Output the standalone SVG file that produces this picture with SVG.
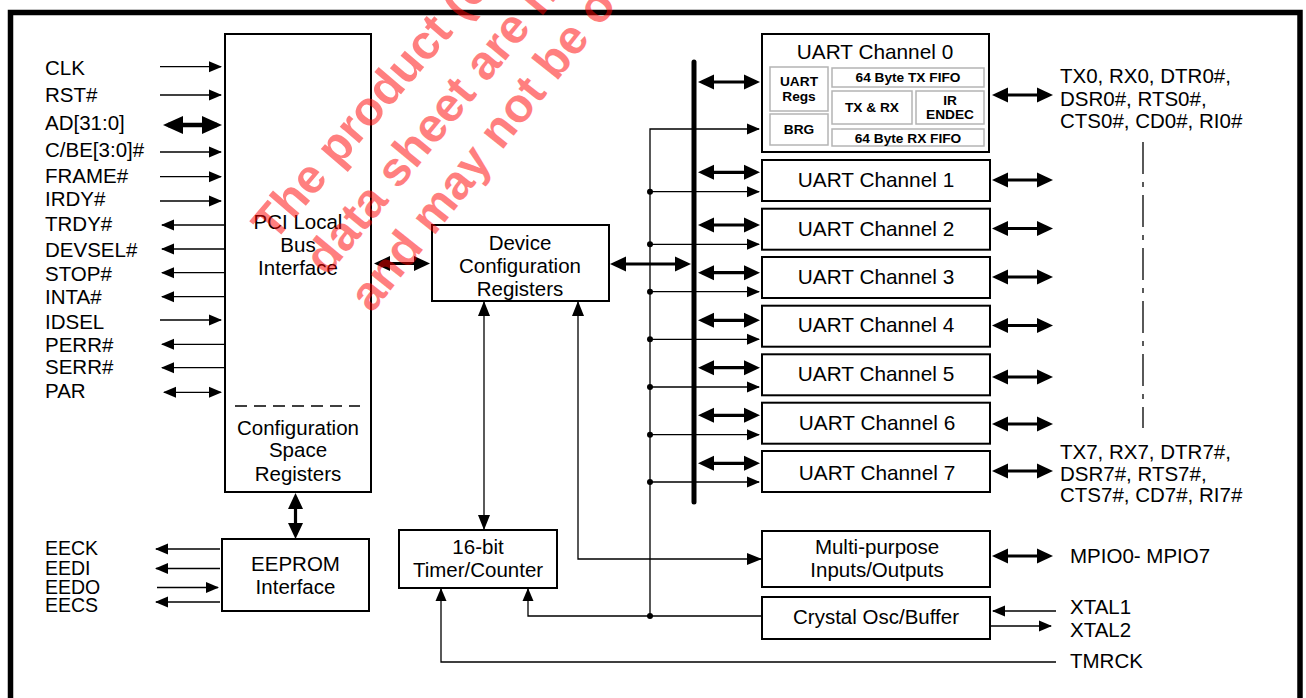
<svg xmlns="http://www.w3.org/2000/svg" width="1306" height="698" viewBox="0 0 1306 698">
<style>
.t{font-family:"Liberation Sans",Arial,sans-serif;font-size:20.5px;fill:#000}
.c{text-anchor:middle}
.u{font-size:20.8px}
.e{font-size:19.5px}
.b{font-family:"Liberation Sans",Arial,sans-serif;font-weight:bold;font-size:13.7px;text-anchor:middle;fill:#000}
.box{fill:#fff;stroke:#000;stroke-width:2}
.cell{fill:none;stroke:#b4b4b4;stroke-width:1.5}
.thin{stroke:#000;stroke-width:1.3;fill:none}
.thick{stroke:#000;stroke-width:3.2;fill:none}
.wm{font-family:"Liberation Sans",Arial,sans-serif;font-weight:bold;font-size:48px;fill:#ff0000;fill-opacity:0.5}
</style>
<defs>
<marker id="ta" markerUnits="userSpaceOnUse" markerWidth="14" markerHeight="12" refX="12" refY="5.5" orient="auto-start-reverse" overflow="visible"><path d="M0,0 L13,5.5 L0,11 Z" fill="#000"/></marker>
<marker id="tb" markerUnits="userSpaceOnUse" markerWidth="16" markerHeight="13" refX="14" refY="6" orient="auto-start-reverse" overflow="visible"><path d="M0,0 L15,6 L0,12 Z" fill="#000"/></marker>
<marker id="ka" markerUnits="userSpaceOnUse" markerWidth="17" markerHeight="16" refX="12" refY="7.5" orient="auto-start-reverse" overflow="visible"><path d="M0,0 L16,7.5 L0,15 Z" fill="#000"/></marker>
<marker id="ha" markerUnits="userSpaceOnUse" markerWidth="21" markerHeight="19" refX="15" refY="9" orient="auto-start-reverse" overflow="visible"><path d="M0,0 L20,9 L0,18 Z" fill="#000"/></marker>
</defs>

<rect x="0" y="0" width="1306" height="698" fill="#fff"/>
<path d="M10.5,698 V12.5 H1300 V698" fill="none" stroke="#000" stroke-width="5.5"/>

<g id="connectors">
<g class="thin" marker-end="url(#ta)">
<path d="M160,66.7H221"/>
<path d="M160,95H221"/>
<path d="M160,152H221"/>
<path d="M160,176.7H221"/>
<path d="M160,201H221"/>
<path d="M225,225H162"/>
<path d="M225,249H162"/>
<path d="M225,272.7H162"/>
<path d="M225,296.7H162"/>
<path d="M160,320H221"/>
<path d="M225,344.3H162"/>
<path d="M225,367.7H162"/>
<path d="M164,392.3H221" marker-start="url(#ta)"/>
</g>
<path d="M168,125H217" stroke="#000" stroke-width="4.5" marker-start="url(#ha)" marker-end="url(#ha)"/>
<g class="thick" marker-start="url(#ka)" marker-end="url(#ka)">
<path d="M378,263.5H426"/>
<path d="M614,264H687"/>
<path d="M295.5,497V535"/>
<path d="M702,82H756"/>
<path d="M702,172.3H756"/>
<path d="M702,225H756"/>
<path d="M702,272.7H756"/>
<path d="M702,320.3H756"/>
<path d="M702,367.7H756"/>
<path d="M702,415.3H756"/>
<path d="M702,463.3H756"/>
<path d="M996,95H1049"/>
<path d="M996,180H1049"/>
<path d="M996,228.5H1049"/>
<path d="M996,277H1049"/>
<path d="M996,325.5H1049"/>
<path d="M996,377H1049"/>
<path d="M996,424H1049"/>
<path d="M996,471H1049"/>
<path d="M996,556H1049"/>
</g>
<path d="M694,62V502" stroke="#000" stroke-width="5" stroke-linecap="round"/>
<g class="thin" marker-end="url(#ta)">
<path d="M650,616V129H759"/>
<path d="M650,191.7H759"/>
<path d="M650,244.3H759"/>
<path d="M650,291.7H759"/>
<path d="M650,339.3H759"/>
<path d="M650,387H759"/>
<path d="M650,434.7H759"/>
<path d="M650,482H759"/>
<path d="M762,616H528V589"/>
<path d="M1056,662H441V589"/>
<path d="M1056,611H993"/>
<path d="M990,626H1051"/>
</g>
<g fill="#000">
<circle cx="650" cy="191.7" r="3"/>
<circle cx="650" cy="244.3" r="3"/>
<circle cx="650" cy="291.7" r="3"/>
<circle cx="650" cy="339.3" r="3"/>
<circle cx="650" cy="387" r="3"/>
<circle cx="650" cy="434.7" r="3"/>
<circle cx="650" cy="482" r="3"/>
<circle cx="650" cy="616" r="3"/>
</g>
<g class="thin" marker-start="url(#tb)" marker-end="url(#tb)">
<path d="M484,302V529"/>
<path d="M578,302V559H761"/>
</g>
<g class="thin" marker-end="url(#ta)">
<path d="M220,549H156"/>
<path d="M220,568.5H156"/>
<path d="M157,587.5H218"/>
<path d="M220,602H156"/>
</g>
<path d="M1143,142V428" stroke="#000" stroke-width="1.3" stroke-dasharray="32 8 5 8"/>
</g>

<g id="pci">
<rect class="box" x="225" y="34" width="146" height="458"/>
<text class="t c" x="298" y="229">PCI Local</text>
<text class="t c" x="298" y="252">Bus</text>
<text class="t c" x="298" y="275">Interface</text>
<path d="M235,406H360" stroke="#000" stroke-width="1.3" stroke-dasharray="12 7"/>
<text class="t c" x="298" y="434.5">Configuration</text>
<text class="t c" x="298" y="457">Space</text>
<text class="t c" x="298" y="480.5">Registers</text>
</g>

<g id="pci-signals">
<text class="t" x="45" y="75">CLK</text>
<text class="t" x="45" y="101.5">RST#</text>
<text class="t" x="45" y="130">AD[31:0]</text>
<text class="t" x="45" y="157">C/BE[3:0]#</text>
<text class="t" x="45" y="183">FRAME#</text>
<text class="t" x="45" y="206">IRDY#</text>
<text class="t" x="45" y="231">TRDY#</text>
<text class="t" x="45" y="256.5">DEVSEL#</text>
<text class="t" x="45" y="280.5">STOP#</text>
<text class="t" x="45" y="304">INTA#</text>
<text class="t" x="45" y="329">IDSEL</text>
<text class="t" x="45" y="351.5">PERR#</text>
<text class="t" x="45" y="374">SERR#</text>
<text class="t" x="45" y="398">PAR</text>
</g>

<g id="dcr">
<rect class="box" x="432" y="225" width="177" height="76"/>
<text class="t c" x="520" y="250">Device</text>
<text class="t c" x="520" y="273">Configuration</text>
<text class="t c" x="520" y="296">Registers</text>
</g>

<g id="eeprom">
<rect class="box" x="222" y="539" width="147" height="72"/>
<text class="t c" x="295.5" y="570.5">EEPROM</text>
<text class="t c" x="295.5" y="594">Interface</text>
</g>
<g id="eeprom-signals">
<text class="t e" x="45" y="555">EECK</text>
<text class="t e" x="45" y="574.5">EEDI</text>
<text class="t e" x="45" y="593.5">EEDO</text>
<text class="t e" x="45" y="612">EECS</text>
</g>

<g id="timer">
<rect class="box" x="399" y="530" width="158" height="58"/>
<text class="t c" x="478" y="554">16-bit</text>
<text class="t c" x="478" y="576.5">Timer/Counter</text>
</g>

<g id="uart0">
<rect class="box" x="762" y="34" width="227" height="118"/>
<text class="t c u" x="875" y="59">UART Channel 0</text>
<rect class="cell" x="770" y="67" width="58" height="44"/>
<rect class="cell" x="770" y="114" width="58" height="31"/>
<rect class="cell" x="832" y="68" width="152" height="19"/>
<rect class="cell" x="832" y="91" width="80" height="33"/>
<rect class="cell" x="916" y="91" width="68" height="33"/>
<rect class="cell" x="832" y="129" width="152" height="17"/>
<text class="b" x="799" y="86">UART</text>
<text class="b" x="799" y="101">Regs</text>
<text class="b" x="799" y="134">BRG</text>
<text class="b" x="908" y="82">64 Byte TX FIFO</text>
<text class="b" x="872" y="112">TX &amp; RX</text>
<text class="b" x="950" y="105">IR</text>
<text class="b" x="950" y="119">ENDEC</text>
<text class="b" x="908" y="142.5">64 Byte RX FIFO</text>
</g>
<g id="uart1"><rect class="box" x="762" y="160" width="228" height="41"/><text class="t c u" x="876" y="187">UART Channel 1</text></g>
<g id="uart2"><rect class="box" x="762" y="208.7" width="228" height="41"/><text class="t c u" x="876" y="235.5">UART Channel 2</text></g>
<g id="uart3"><rect class="box" x="762" y="257" width="228" height="41"/><text class="t c u" x="876" y="284">UART Channel 3</text></g>
<g id="uart4"><rect class="box" x="762" y="305.7" width="228" height="41"/><text class="t c u" x="876" y="332">UART Channel 4</text></g>
<g id="uart5"><rect class="box" x="762" y="354.3" width="228" height="41"/><text class="t c u" x="876" y="381">UART Channel 5</text></g>
<g id="uart6"><rect class="box" x="762" y="402.7" width="228" height="41"/><text class="t c u" x="877" y="429.5">UART Channel 6</text></g>
<g id="uart7"><rect class="box" x="762" y="451" width="228" height="41"/><text class="t c u" x="877" y="480">UART Channel 7</text></g>

<g id="mpio">
<rect class="box" x="762" y="531" width="228" height="56"/>
<text class="t c" x="877" y="554">Multi-purpose</text>
<text class="t c" x="877" y="576.5">Inputs/Outputs</text>
</g>
<g id="crystal">
<rect class="box" x="762" y="597" width="228" height="42"/>
<text class="t c" x="876" y="624">Crystal Osc/Buffer</text>
</g>

<g id="external-labels">
<text class="t" x="1060" y="83">TX0, RX0, DTR0#,</text>
<text class="t" x="1060" y="105.5">DSR0#, RTS0#,</text>
<text class="t" x="1060" y="128">CTS0#, CD0#, RI0#</text>
<text class="t" x="1060" y="459">TX7, RX7, DTR7#,</text>
<text class="t" x="1060" y="481">DSR7#, RTS7#,</text>
<text class="t" x="1060" y="502">CTS7#, CD7#, RI7#</text>
<text class="t" x="1070" y="563">MPIO0- MPIO7</text>
<text class="t" x="1070" y="614">XTAL1</text>
<text class="t" x="1070" y="637">XTAL2</text>
<text class="t" x="1070" y="668">TMRCK</text>
</g>

<g id="watermark">
<text class="wm" transform="translate(274,243) rotate(-49.5)">The product (c</text>
<text class="wm" transform="translate(327,277) rotate(-50.5)">data sheet are n</text>
<text class="wm" transform="translate(372,314) rotate(-51.5)">and may not be o</text>
</g>
</svg>
